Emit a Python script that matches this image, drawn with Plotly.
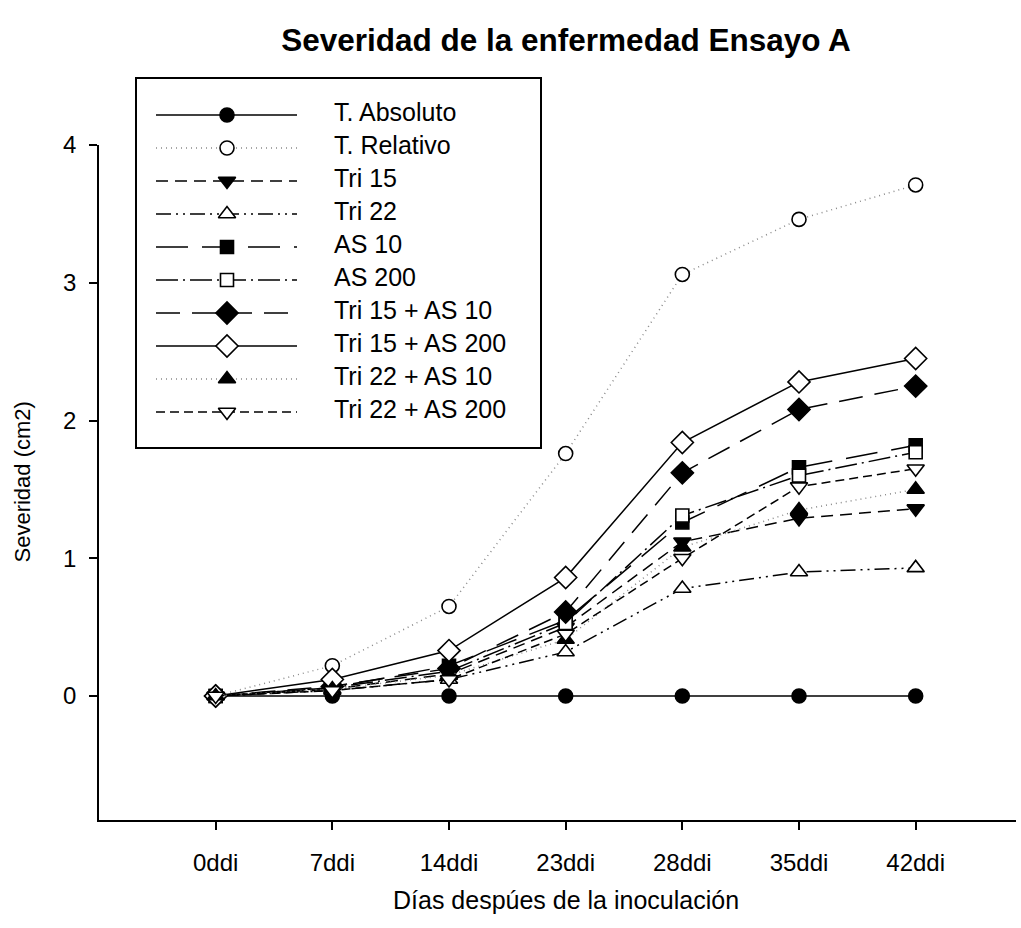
import plotly.graph_objects as go

# ---------------- data ----------------
categories = ["0ddi", "7ddi", "14ddi", "23ddi", "28ddi", "35ddi", "42ddi"]

series_names = ["T. Absoluto", "T. Relativo", "Tri 15", "Tri 22", "AS 10", "AS 200",
                "Tri 15 + AS 10", "Tri 15 + AS 200", "Tri 22 + AS 10", "Tri 22 + AS 200"]

t_absoluto = [0, 0, 0, 0, 0, 0, 0]
t_relativo = [0, 0.22, 0.65, 1.76, 3.06, 3.46, 3.71]
tri15 = [0, 0.05, 0.16, 0.50, 1.12, 1.29, 1.36]
tri22 = [0, 0.04, 0.12, 0.32, 0.78, 0.90, 0.93]
as10 = [0, 0.06, 0.22, 0.55, 1.26, 1.66, 1.82]
as200 = [0, 0.06, 0.18, 0.53, 1.31, 1.60, 1.77]
tri15_as10 = [0, 0.07, 0.20, 0.61, 1.62, 2.08, 2.25]
tri15_as200 = [0, 0.12, 0.33, 0.86, 1.84, 2.28, 2.45]
tri22_as10 = [0, 0.05, 0.15, 0.41, 1.08, 1.35, 1.50]
tri22_as200 = [0, 0.04, 0.12, 0.45, 1.00, 1.52, 1.65]

y_ticks = [0, 1, 2, 3, 4]

values = [t_absoluto, t_relativo, tri15, tri22, as10, as200,
          tri15_as10, tri15_as200, tri22_as10, tri22_as200]

# ---------------- styles ----------------
FONT = "Liberation Sans, Arial, sans-serif"
styles = [
    dict(dash="solid", color="black", symbol="circle", fill="black", size=14),
    dict(dash="1px,4px", color="#8a8a8a", symbol="circle", fill="white", size=14),
    dict(dash="12px,7px", color="black", symbol="triangle-down", fill="black", size=15),
    dict(dash="15px,5px,2px,5px,2px,5px", color="black", symbol="triangle-up", fill="white", size=15),
    dict(dash="32px,14px", color="black", symbol="square", fill="black", size=13),
    dict(dash="22px,5px,2px,5px", color="black", symbol="square", fill="white", size=13),
    dict(dash="24px,12px", color="black", symbol="diamond", fill="black", size=17),
    dict(dash="solid", color="black", symbol="diamond", fill="white", size=17),
    dict(dash="1px,4px", color="#8a8a8a", symbol="triangle-up", fill="black", size=15),
    dict(dash="9px,5px", color="black", symbol="triangle-down", fill="white", size=15),
]

fig = go.Figure()

for name, vals, st in zip(series_names, values, styles):
    fig.add_trace(go.Scatter(
        x=categories, y=vals, mode="lines+markers", name=name, showlegend=False,
        line=dict(color=st["color"], width=1.5, dash=st["dash"]),
        marker=dict(symbol=st["symbol"], size=st["size"], color=st["fill"],
                    line=dict(color="black", width=1.6)),
        cliponaxis=False,
    ))

# ---------------- custom legend on its own axes ----------------
row0, row_step = 36, 33
line_x0, line_x1, mark_x, text_x = 19, 160, 90, 197
for i, (name, st) in enumerate(zip(series_names, styles)):
    ry = row0 + row_step * i
    fig.add_trace(go.Scatter(
        x=[line_x0, line_x1], y=[ry, ry], mode="lines", xaxis="x2", yaxis="y2",
        showlegend=False, hoverinfo="skip",
        line=dict(color=st["color"], width=1.5, dash=st["dash"])))
    fig.add_trace(go.Scatter(
        x=[mark_x], y=[ry], mode="markers", xaxis="x2", yaxis="y2",
        showlegend=False, hoverinfo="skip",
        marker=dict(symbol=st["symbol"], size=st["size"], color=st["fill"],
                    line=dict(color="black", width=1.6))))
    fig.add_trace(go.Scatter(
        x=[text_x], y=[ry], mode="text", text=[name], textposition="middle right",
        xaxis="x2", yaxis="y2", showlegend=False, hoverinfo="skip",
        textfont=dict(family=FONT, size=25, color="black")))

W, H = 1021, 928
ml, mr, mt, mb = 99, 5, 70, 108
pw, ph = W - ml - mr, H - mt - mb

def px_x(p):
    return (p - ml) / pw

def px_y(p):
    return (H - mb - p) / ph

fig.update_layout(
    width=W, height=H,
    margin=dict(l=ml, r=mr, t=mt, b=mb),
    paper_bgcolor="white", plot_bgcolor="rgba(0,0,0,0)",
    font=dict(family=FONT, size=24, color="black"),
    title=dict(text="<b>Severidad de la enfermedad Ensayo A</b>",
               font=dict(family=FONT, size=31.5, color="black"),
               x=566 / W, xanchor="center", xref="container",
               y=1 - 40 / H, yanchor="middle", yref="container"),
    xaxis=dict(type="category", categoryarray=categories, range=[-1, 6.86],
               showline=True, linecolor="black", linewidth=1.5,
               ticks="outside", ticklen=8, tickwidth=1.5, tickcolor="black",
               showgrid=False, zeroline=False,
               tickfont=dict(family=FONT, size=24), ticklabelstandoff=12),
    yaxis=dict(domain=[0, px_y(145)], range=[-0.9, 4], tickvals=y_ticks,
               showline=True, linecolor="black", linewidth=1.5,
               ticks="outside", ticklen=8, tickwidth=1.5, tickcolor="black",
               showgrid=False, zeroline=False,
               tickfont=dict(family=FONT, size=24), ticklabelstandoff=8),
    xaxis2=dict(domain=[px_x(137), px_x(540)], range=[0, 403], anchor="y2",
                showline=True, mirror=True, linecolor="black", linewidth=1.5,
                showticklabels=False, ticks="", showgrid=False, zeroline=False,
                fixedrange=True),
    yaxis2=dict(domain=[px_y(447), px_y(79)], range=[368, 0], anchor="x2",
                showline=True, mirror=True, linecolor="black", linewidth=1.5,
                showticklabels=False, ticks="", showgrid=False, zeroline=False,
                fixedrange=True),
    annotations=[
        dict(text="Días despúes de la inoculación", xref="paper", yref="paper",
             x=px_x(566), y=px_y(900), xanchor="center", yanchor="middle",
             showarrow=False, font=dict(family=FONT, size=25, color="black")),
        dict(text="Severidad (cm2)", xref="paper", yref="y domain",
             x=px_x(22), y=0.5, xanchor="center", yanchor="middle", textangle=-90,
             showarrow=False, font=dict(family=FONT, size=22, color="black")),
    ],
)

fig.write_html("out.html", config={"displayModeBar": False},
               post_script="document.body.style.margin='0';document.body.style.overflow='hidden';")
